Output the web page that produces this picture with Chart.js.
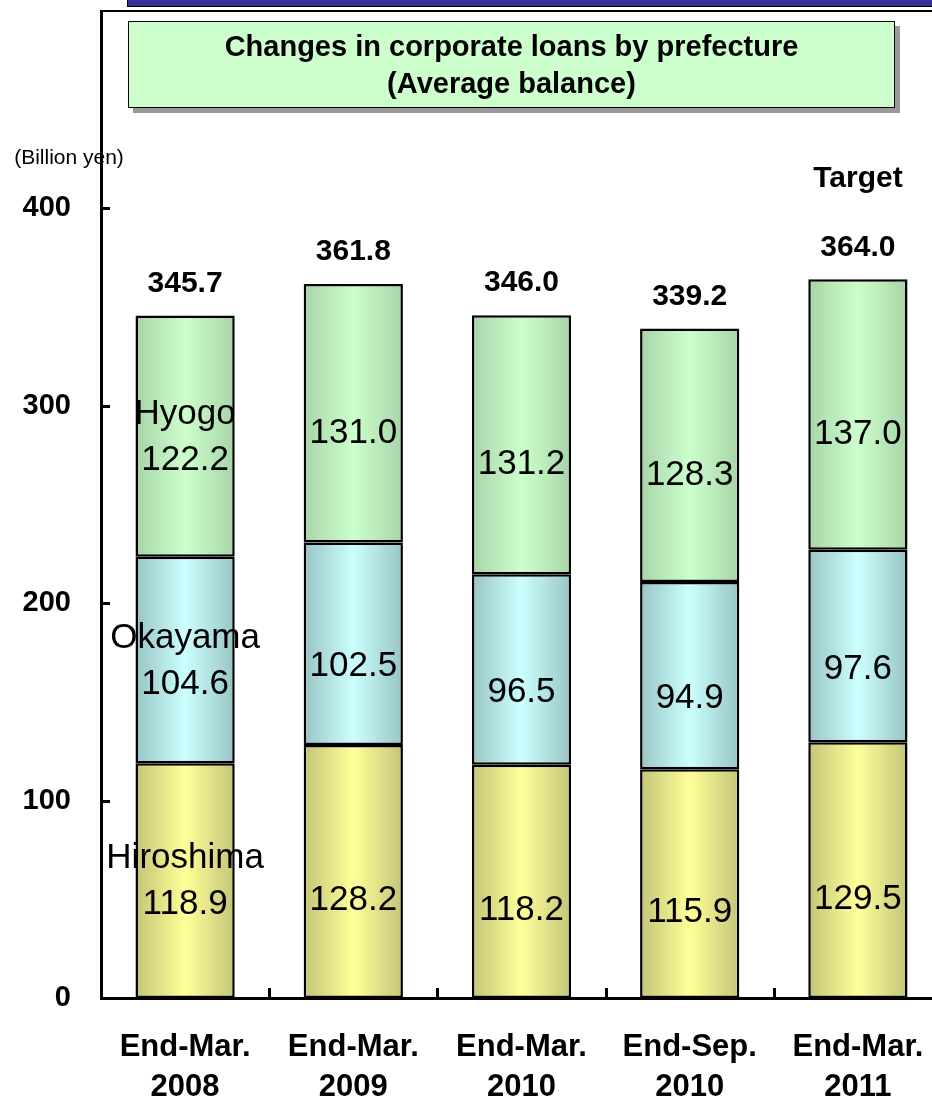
<!DOCTYPE html>
<html>
<head>
<meta charset="utf-8">
<script src="https://cdn.jsdelivr.net/npm/chart.js@4.4.0/dist/chart.umd.min.js"></script>
<style>
  body { margin: 0; width: 932px; height: 1101px; overflow: hidden; background: #fff; font-family: Arial, "Liberation Sans", sans-serif; }
  #wrap { position: relative; width: 944px; height: 1101px; }
  #topbar { position: absolute; left: 127px; top: -2px; width: 820px; height: 7px; background: #333399; border: 1px solid #000; }
  #title { position: absolute; left: 128px; top: 21px; width: 767px; height: 87px; background: #ccffcc; border: 1px solid #000;
           box-shadow: 5px 5px 0 #999; text-align: center; font-weight: bold; font-size: 29px; line-height: 37px; padding-top: 6px; box-sizing: border-box; }
  canvas { position: absolute; left: 0; top: 0; }
</style>
</head>
<body>
<div id="wrap">
  <canvas id="myChart" width="942" height="1101"></canvas>
  <div id="topbar"></div>
  <div id="title">Changes in corporate loans by prefecture<br>(Average balance)</div>
</div>
<script>
var categories = [
  ["End-Mar.", "2008"],
  ["End-Mar.", "2009"],
  ["End-Mar.", "2010"],
  ["End-Sep.", "2010"],
  ["End-Mar.", "2011"]
];
var hiroshima = [118.9, 128.2, 118.2, 115.9, 129.5];
var okayama = [104.6, 102.5, 96.5, 94.9, 97.6];
var hyogo = [122.2, 131.0, 131.2, 128.3, 137.0];
var totals = [345.7, 361.8, 346.0, 339.2, 364.0];
var yTicks = [0, 100, 200, 300, 400];

var barPct = 0.59;

// horizontal gradient across each bar, darker at the edges
function barFill(edge, mid) {
  return function (ctx) {
    var xs = ctx.chart.scales.x;
    if (!xs || ctx.dataIndex === undefined) return mid;
    var cx = xs.getPixelForValue(ctx.dataIndex);
    var w = (xs.width / categories.length) * barPct;
    if (!isFinite(cx) || !isFinite(w) || w <= 0) return mid;
    var g = ctx.chart.ctx.createLinearGradient(cx - w / 2, 0, cx + w / 2, 0);
    g.addColorStop(0, edge);
    g.addColorStop(0.5, mid);
    g.addColorStop(1, edge);
    return g;
  };
}

var labelPlugin = {
  id: "labelPlugin",
  afterDatasetsDraw: function (chart) {
    var c = chart.ctx;
    var area = chart.chartArea;
    c.save();
    c.textAlign = "center";
    c.textBaseline = "middle";
    c.fillStyle = "#000";
    c.font = "35px Arial, 'Liberation Sans', sans-serif";
    chart.data.datasets.forEach(function (ds, di) {
      var meta = chart.getDatasetMeta(di);
      meta.data.forEach(function (bar, i) {
        var mid = (bar.y + bar.base) / 2;
        if (i === 0) {
          c.fillText(ds.label, bar.x, mid - 22);
          c.fillText(ds.data[i].toFixed(1), bar.x, mid + 24);
        } else {
          c.fillText(ds.data[i].toFixed(1), bar.x, mid + ds.labelShift);
        }
      });
    });

    // totals above each stack
    var topMeta = chart.getDatasetMeta(chart.data.datasets.length - 1);
    c.font = "bold 30px Arial, 'Liberation Sans', sans-serif";
    topMeta.data.forEach(function (bar, i) {
      c.fillText(totals[i].toFixed(1), bar.x, bar.y - 32);
      if (i === totals.length - 1) {
        c.fillText("Target", bar.x, bar.y - 101);
      }
    });

    // unit label
    c.font = "21px Arial, 'Liberation Sans', sans-serif";
    c.fillText("(Billion yen)", 69, 158);

    // inner tick marks
    c.strokeStyle = "#000";
    c.lineWidth = 3;
    var ys = chart.scales.y;
    yTicks.forEach(function (v) {
      if (v === 0) return;
      var py = Math.round(ys.getPixelForValue(v)) + 0.5;
      c.beginPath();
      c.moveTo(area.left, py);
      c.lineTo(area.left + 9, py);
      c.stroke();
    });
    var xs = chart.scales.x;
    var step = xs.width / categories.length;
    for (var k = 1; k < categories.length; k++) {
      var px = Math.round(area.left + step * k) + 0.5;
      c.beginPath();
      c.moveTo(px, area.bottom);
      c.lineTo(px, area.bottom - 10);
      c.stroke();
    }

    // top frame line
    c.lineWidth = 2;
    c.beginPath();
    c.moveTo(area.left - 1, area.top);
    c.lineTo(area.right, area.top);
    c.stroke();
    c.restore();
  }
};

var ctx = document.getElementById("myChart").getContext("2d");
var myChart = new Chart(ctx, {
  type: "bar",
  data: {
    labels: categories,
    datasets: [
      {
        label: "Hiroshima",
        data: hiroshima,
        labelShift: 29,
        backgroundColor: barFill("#c4c478", "#ffff99")
      },
      {
        label: "Okayama",
        data: okayama,
        labelShift: 23,
        backgroundColor: barFill("#99c4c4", "#ccffff")
      },
      {
        label: "Hyogo",
        data: hyogo,
        labelShift: 20,
        backgroundColor: barFill("#a8d4a8", "#ccffcc")
      }
    ]
  },
  options: {
    responsive: false,
    animation: false,
    devicePixelRatio: 1,
    layout: { padding: { top: 11, left: 0, right: 0, bottom: 0 } },
    datasets: {
      bar: {
        borderColor: "#000",
        borderWidth: 2.5,
        borderSkipped: false,
        categoryPercentage: 1,
        barPercentage: barPct
      }
    },
    plugins: {
      legend: { display: false },
      tooltip: { enabled: false },
      title: { display: false }
    },
    scales: {
      x: {
        stacked: true,
        grid: { display: false },
        border: { display: true, color: "#000", width: 3 },
        ticks: {
          color: "#000",
          padding: 21,
          maxRotation: 0,
          font: { family: "Arial, 'Liberation Sans', sans-serif", size: 31, weight: "bold", lineHeight: 1.29 }
        },
        afterFit: function (scale) {
          scale.height = 103;
          scale.paddingLeft = 0;
          scale.paddingRight = 0;
        }
      },
      y: {
        stacked: true,
        min: 0,
        max: 500,
        grid: { display: false },
        border: { display: true, color: "#000", width: 3 },
        ticks: {
          stepSize: 100,
          color: "#000",
          padding: 22,
          font: { family: "Arial, 'Liberation Sans', sans-serif", size: 29, weight: "bold" },
          callback: function (v) {
            return yTicks.indexOf(v) >= 0 ? v : "";
          }
        },
        afterFit: function (scale) {
          scale.width = 101;
          scale.paddingTop = 0;
          scale.paddingBottom = 0;
        }
      }
    }
  },
  plugins: [labelPlugin]
});
</script>
</body>
</html>
